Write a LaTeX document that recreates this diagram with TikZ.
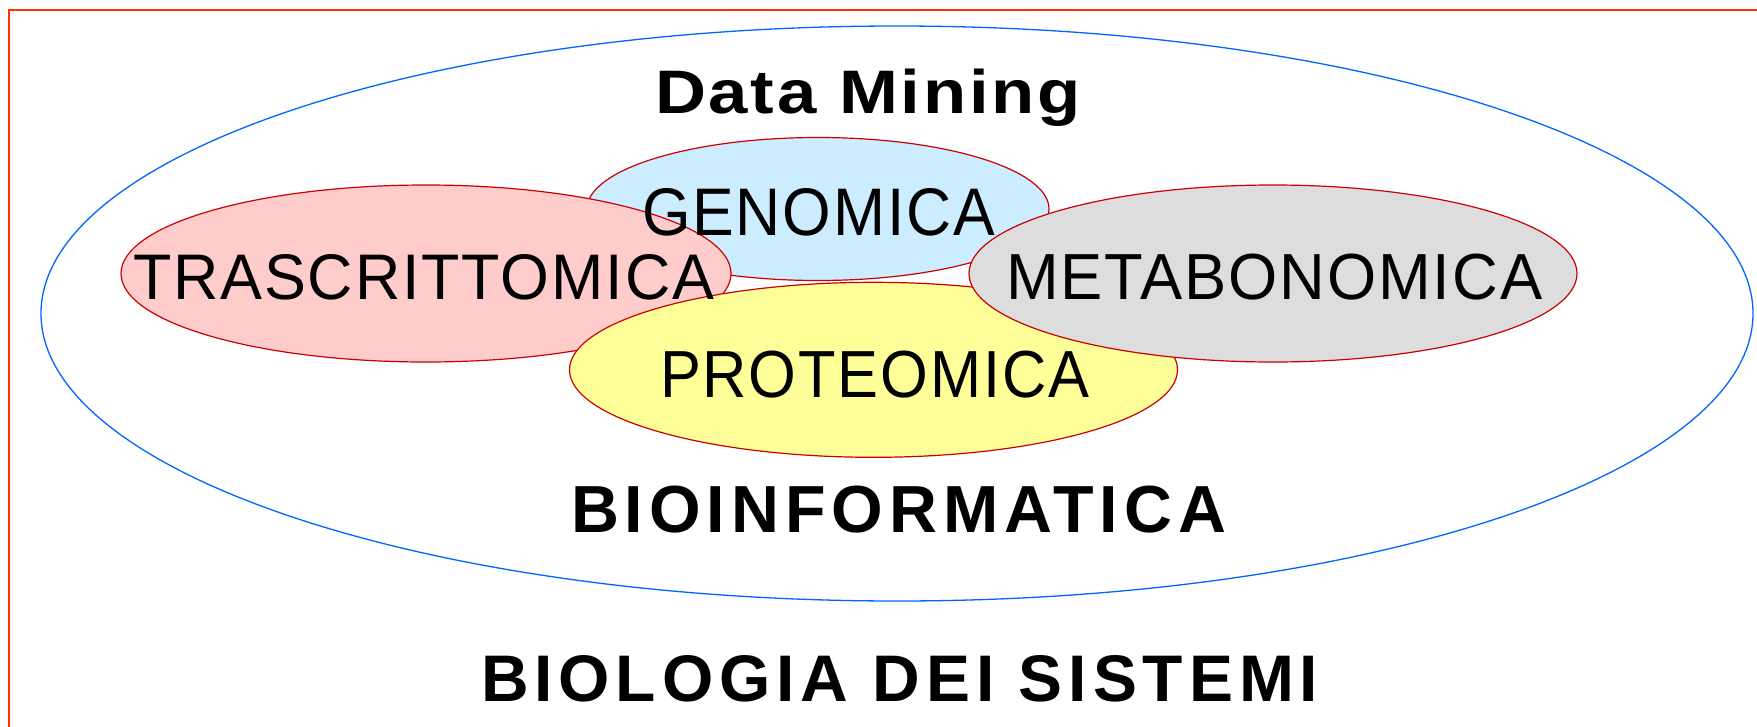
\documentclass[tikz,border=0pt]{standalone}
\usepackage{fontspec}
\usepackage{graphicx}
\setmainfont{Liberation Sans}
\newfontfamily\spacedreg[LetterSpace=3]{Liberation Sans}
\newfontfamily\spacedbold[LetterSpace=9,UprightFont=*-Bold]{Liberation Sans}
\newfontfamily\lightspacedbold[LetterSpace=4,UprightFont=*-Bold]{Liberation Sans}
\usetikzlibrary{shapes.geometric}
\definecolor{frameorange}{RGB}{255,51,0}
\definecolor{outerblue}{RGB}{0,102,255}
\definecolor{ellred}{RGB}{204,0,0}
\definecolor{fillblue}{RGB}{204,236,255}
\definecolor{fillpink}{RGB}{255,204,204}
\definecolor{fillgrey}{RGB}{221,221,221}
\definecolor{fillyellow}{RGB}{255,255,153}
\newcommand{\fitbox}[3]{\resizebox{#1pt}{#2pt}{#3}}
\tikzset{
  field/.style={ellipse, draw=ellred, line width=1.2pt, inner sep=0pt,
     minimum width=608pt, minimum height=177pt},
  label/.style={anchor=base west, inner sep=0pt, outer sep=0pt, text=black},
}
\begin{document}
\begin{tikzpicture}[x=1pt,y=-1pt]
\useasboundingbox (0,0) rectangle (1757,726);
\fill[white] (0,0) rectangle (1757,726);
% frame (only top and left edges visible)
\coordinate (ftl) at (9,10);
\coordinate (ftr) at (1760,10);
\coordinate (fbl) at (9,730);
\draw[frameorange, line width=1.5pt] (fbl) -- (ftl) -- (ftr);
% outer ellipse
\node[ellipse, draw=outerblue, line width=1.3pt, inner sep=0pt,
      minimum width=1712pt, minimum height=575pt] (bio) at (897,313.5) {};
% inner fields
\node[field, fill=fillblue, minimum width=462pt, minimum height=143pt] (gen) at (818,209) {};
\node[field, fill=fillpink, minimum width=610pt] (tra) at (426,273.5) {};
\node[field, fill=fillyellow, minimum height=175pt] (pro) at (873.5,369.8) {};
\node[field, fill=fillgrey] (met) at (1273,273.5) {};
% texts
\node[label] (tdm) at (655,113.3) {\fitbox{426}{44.5}{\lightspacedbold Data Mining}};
\node[label] (tgen) at (642,235.7) {\fitbox{353}{47}{\spacedreg GENOMICA}};
\node[label] (ttra) at (133,299.3) {\fitbox{581}{45}{\spacedreg TRASCRITTOMICA}};
\node[label] (tmet) at (1006,299) {\fitbox{536}{45.5}{\spacedreg METABONOMICA}};
\node[label] (tpro) at (660,397.8) {\fitbox{429}{46.5}{\spacedreg PROTEOMICA}};
\node[label] (tbi) at (571,532) {\fitbox{655}{46.5}{\spacedbold BIOINFORMATICA}};
\node[label] (tbs) at (481,701.7) {\fitbox{837}{46}{\spacedbold BIOLOGIA DEI SISTEMI}};
\end{tikzpicture}
\end{document}
